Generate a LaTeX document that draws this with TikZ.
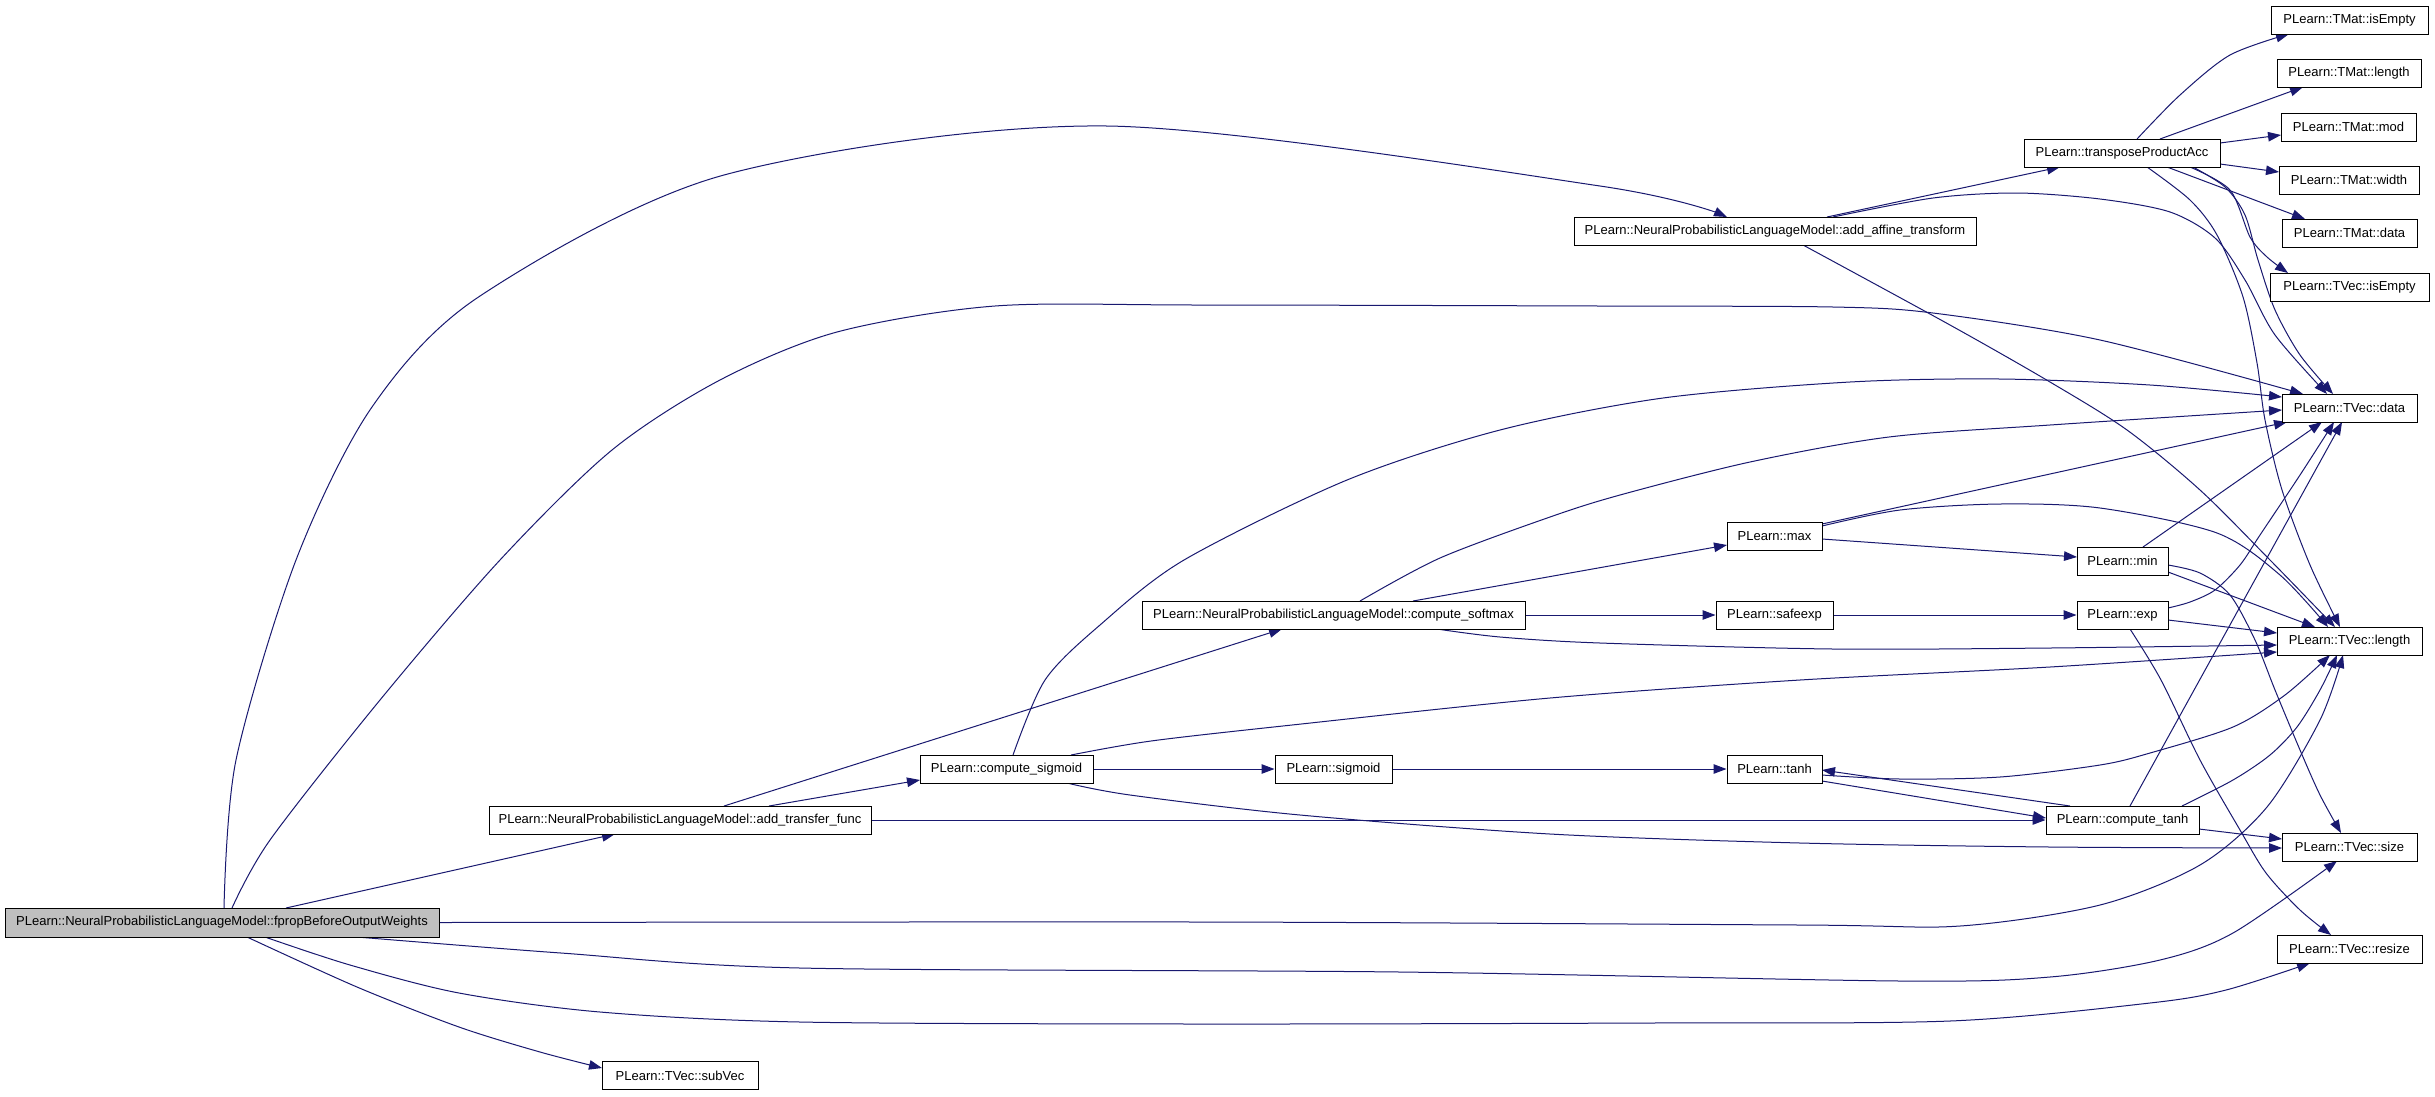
\documentclass[tikz,border=0pt]{standalone}
\usepackage{fontspec}
\setmainfont{Liberation Sans}
\usetikzlibrary{arrows.meta,calc}
\definecolor{edgeblue}{HTML}{191970}
\definecolor{rootgray}{HTML}{BFBFBF}
\pgfdeclarelayer{bg}
\pgfsetlayers{bg,main}
\begin{document}
\begin{tikzpicture}[x=1pt,y=-1pt,
  fn/.style={draw=black, line width=1pt, fill=white, rectangle, minimum height=28pt, inner sep=0pt, font=\fontsize{13}{15}\selectfont},
  conn/.style={draw=edgeblue, line width=1pt, -{Triangle[length=13pt,width=9.5pt]}},
  sm/.style={smooth, tension=0.5}]
\useasboundingbox (0,0) rectangle (2435,1096);

\node[fn, fill=rootgray, minimum width=434pt, minimum height=29pt] (fprop) at (222,922.5) {PLearn::NeuralProbabilisticLanguageModel::fpropBeforeOutputWeights};
\node[fn, minimum width=156pt] (subvec) at (680,1075.5) {PLearn::TVec::subVec};
\node[fn, minimum width=382pt] (atf) at (680,820) {PLearn::NeuralProbabilisticLanguageModel::add\_transfer\_func};
\node[fn, minimum width=173pt] (csig) at (1006.5,769) {PLearn::compute\_sigmoid};
\node[fn, minimum width=117pt] (sig) at (1333.5,769) {PLearn::sigmoid};
\node[fn, minimum width=383pt] (csm) at (1333.5,615) {PLearn::NeuralProbabilisticLanguageModel::compute\_softmax};
\node[fn, minimum width=402pt] (aff) at (1775,231) {PLearn::NeuralProbabilisticLanguageModel::add\_affine\_transform};
\node[fn, minimum width=95pt] (nmax) at (1774.5,536) {PLearn::max};
\node[fn, minimum width=117pt] (safe) at (1774.5,615) {PLearn::safeexp};
\node[fn, minimum width=95pt] (ntanh) at (1774.5,769) {PLearn::tanh};
\node[fn, minimum width=196pt] (tpa) at (2122,153) {PLearn::transposeProductAcc};
\node[fn, minimum width=91pt] (nmin) at (2122.5,561) {PLearn::min};
\node[fn, minimum width=91pt] (nexp) at (2122.5,615) {PLearn::exp};
\node[fn, minimum width=153pt] (ctanh) at (2122.5,820) {PLearn::compute\_tanh};
\node[fn, minimum width=157pt] (mise) at (2349.5,20) {PLearn::TMat::isEmpty};
\node[fn, minimum width=144pt] (mlen) at (2349,73) {PLearn::TMat::length};
\node[fn, minimum width=135pt] (mmod) at (2348.5,127) {PLearn::TMat::mod};
\node[fn, minimum width=140pt] (mwid) at (2349,180) {PLearn::TMat::width};
\node[fn, minimum width=135pt] (mdat) at (2349.5,233) {PLearn::TMat::data};
\node[fn, minimum width=159pt] (vise) at (2349.5,287) {PLearn::TVec::isEmpty};
\node[fn, minimum width=135pt] (vdat) at (2349.5,408) {PLearn::TVec::data};
\node[fn, minimum width=145pt] (vlen) at (2349.5,641) {PLearn::TVec::length};
\node[fn, minimum width=135pt] (vsize) at (2349.5,847) {PLearn::TVec::size};
\node[fn, minimum width=145pt] (vres) at (2349.5,949) {PLearn::TVec::resize};

\begin{pgfonlayer}{bg}
\fill[white] (0,0) rectangle (2435,1096);
% fprop
\draw[conn] plot[sm] coordinates {($(fprop)+(2,-14.5)$) (236,760) (296,560) (372,407) (480,296) (724,175) (1107,126) (1600,186) ($(aff)+(-48,-14)$)};
\draw[conn] plot[sm] coordinates {($(fprop)+(10,-14.5)$) (270,840) (380,700) (500,560) (612,450) (720,380) (837,332) (995,306) (1200,305) (1600,306) (1833,307) (1933,313) (2100,340) ($(vdat)+(-46.5,-14)$)};
\draw[conn] ($(fprop)+(64,-14.5)$) -- ($(atf)+(-65,14)$);
\draw[conn] plot[sm] coordinates {(fprop.east) (1200,922) (1800,925) (1960,926) (2100,905) (2200,865) (2267,807) (2320,720) ($(vlen)+(-6.5,14)$)};
\draw[conn] plot[sm] coordinates {($(fprop)+(135,14.5)$) (561,953) (800,968) (1400,972) (1900,981) (2050,977) (2160,960) (2233,933) ($(vsize)+(-12.5,14)$)};
\draw[conn] plot[sm] coordinates {($(fprop)+(43,14.5)$) (350,965) (459,993) (600,1012) (800,1022) (1200,1024) (1650,1023) (1950,1021) (2150,1003) (2226,990) ($(vres)+(-39.5,14)$)};
\draw[conn] plot[sm] coordinates {($(fprop)+(25,14.5)$) (357,987) (459,1027) (540,1052) ($(subvec)+(-78,-7.5)$)};
% add_affine_transform
\draw[conn] ($(aff)+(52,-14)$) -- ($(tpa)+(-62,14)$);
\draw[conn] plot[sm] coordinates {($(aff)+(58,-14)$) (1933,198) (2017,193) (2100,199) (2170,212) (2215,238) (2245,280) (2275,335) ($(vdat)+(-22.5,-14)$)};
\draw[conn] plot[sm] coordinates {($(aff)+(28,14)$) (1950,325) (2050,382) (2127,430) (2200,490) (2270,560) ($(vlen)+(-14.5,-14)$)};
% transposeProductAcc
\draw[conn] plot[sm] coordinates {($(tpa)+(15,-14)$) (2180,95) (2230,55) ($(mise)+(-60.5,14)$)};
\draw[conn] ($(tpa)+(38,-14)$) -- ($(mlen)+(-46,14)$);
\draw[conn] ($(tpa)+(98,-10)$) -- ($(mmod)+(-67.5,8)$);
\draw[conn] ($(tpa)+(98,11)$) -- ($(mwid)+(-70,-8)$);
\draw[conn] ($(tpa)+(45,14)$) -- ($(mdat)+(-44.5,-14)$);
\draw[conn] plot[sm] coordinates {($(tpa)+(68,14)$) (2230,190) (2250,237) (2267,257) ($(vise)+(-61.5,-14)$)};
\draw[conn] plot[sm] coordinates {($(tpa)+(71,14)$) (2225,187) (2245,215) (2258,260) (2275,310) (2300,355) ($(vdat)+(-16.5,-14)$)};
\draw[conn] plot[sm] coordinates {($(tpa)+(25,14)$) (2190,200) (2217,235) (2243,297) (2257,363) (2265,420) (2282,490) (2310,565) ($(vlen)+(-9.5,-14)$)};
% compute_softmax
\draw[conn] ($(csm)+(79.5,-14)$) -- ($(nmax)+(-47.5,9)$);
\draw[conn] (csm.east) -- (safe.west);
\draw[conn] plot[sm] coordinates {($(csm)+(26.5,-14)$) (1440,558) (1550,517) (1620,495) (1750,462) (1889,437) (2050,425) ($(vdat)+(-67.5,2)$)};
\draw[conn] plot[sm] coordinates {($(csm)+(103.5,14)$) (1500,637) (1600,643) (1833,649) (2050,648) ($(vlen)+(-72.5,4)$)};
% compute_sigmoid
\draw[conn] plot[sm] coordinates {($(csig)+(6.5,-14)$) (1045,680) (1100,625) (1184,560) (1347,480) (1500,430) (1663,398) (1850,382) (2000,379) (2150,385) ($(vdat)+(-67.5,-11)$)};
\draw[conn] plot[sm] coordinates {($(csig)+(64.5,-14)$) (1151,741) (1292,725) (1550,698) (1800,680) (2050,667) ($(vlen)+(-72.5,11)$)};
\draw[conn] (csig.east) -- (sig.west);
\draw[conn] plot[sm] coordinates {($(csig)+(60.5,14)$) (1130,795) (1300,815) (1550,834) (1800,843) (2050,847) ($(vsize)+(-67.5,1)$)};
% add_transfer_func
\draw[conn] ($(atf)+(44,-14)$) -- ($(csm)+(-51.5,14)$);
\draw[conn] ($(atf)+(89,-14)$) -- ($(csig)+(-86.5,11)$);
\draw[conn] (atf.east) -- (ctanh.west);
% sigmoid
\draw[conn] (sig.east) -- (ntanh.west);
% max
\draw[conn] ($(nmax)+(47.5,-12)$) -- ($(vdat)+(-62.5,14)$);
\draw[conn] plot[sm] coordinates {($(nmax)+(47.5,-10)$) (1900,510) (2000,504) (2100,508) (2217,533) (2280,575) ($(vlen)+(-21.5,-14)$)};
\draw[conn] ($(nmax)+(47.5,3)$) -- ($(nmin)+(-45.5,-4)$);
% safeexp
\draw[conn] (safe.east) -- (nexp.west);
% min
\draw[conn] ($(nmin)+(20.5,-14)$) -- ($(vdat)+(-27.5,14)$);
\draw[conn] ($(nmin)+(45.5,11)$) -- ($(vlen)+(-34.5,-14)$);
\draw[conn] plot[sm] coordinates {($(nmin)+(45.5,4)$) (2200,573) (2230,595) (2255,640) (2275,690) (2300,750) (2320,795) ($(vsize)+(-8.5,-14)$)};
% exp
\draw[conn] plot[sm] coordinates {($(nexp)+(45.5,-7)$) (2190,602) (2215,590) (2240,565) (2260,535) (2300,475) ($(vdat)+(-15.5,14)$)};
\draw[conn] ($(nexp)+(45.5,5)$) -- ($(vlen)+(-72.5,-8)$);
\draw[conn] plot[sm] coordinates {($(nexp)+(7.5,14)$) (2161,680) (2200,760) (2240,830) (2266,873) (2300,910) ($(vres)+(-18.5,-14)$)};
% tanh
\draw[conn] ($(ntanh)+(47.5,12)$) -- ($(ctanh)+(-76.5,-2)$);
\draw[conn] plot[sm] coordinates {($(ntanh)+(47.5,6)$) (1900,779) (2000,777) (2100,765) (2150,753) (2233,727) (2285,695) ($(vlen)+(-19.5,14)$)};
% compute_tanh
\draw[conn] ($(ctanh)+(-52.5,-14)$) -- ($(ntanh)+(47.5,1)$);
\draw[conn] ($(ctanh)+(7.5,-14)$) -- ($(vdat)+(-7.5,14)$);
\draw[conn] plot[sm] coordinates {($(ctanh)+(59.5,-14)$) (2233,780) (2270,755) (2297,727) (2320,690) ($(vlen)+(-12.5,14)$)};
\draw[conn] ($(ctanh)+(76.5,9)$) -- ($(vsize)+(-67.5,-8)$);
\end{pgfonlayer}
\end{tikzpicture}
\end{document}
